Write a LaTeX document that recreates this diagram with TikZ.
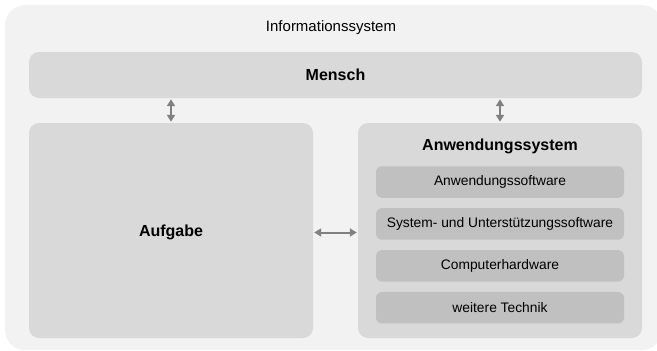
\documentclass[tikz,border=0pt]{standalone}
\usepackage{fontspec}
\setmainfont{Liberation Sans}
\usepackage{tikz}
\usetikzlibrary{arrows.meta}
\usetikzlibrary{positioning}
\definecolor{outergray}{HTML}{F2F2F2}
\definecolor{blockgray}{HTML}{D9D9D9}
\definecolor{partgray}{HTML}{C0C0C0}
\definecolor{arrowgray}{HTML}{808080}
\tikzset{
    outer/.style={
           rectangle,
           rounded corners=20pt,
           fill=outergray,
           inner sep=0pt,
           },
    block/.style={
           rectangle,
           rounded corners=10pt,
           fill=blockgray,
           inner sep=0pt,
           text centered,
           font=\bfseries\fontsize{16}{19}\selectfont,
           },
    part/.style={
           rectangle,
           rounded corners=6pt,
           fill=partgray,
           minimum width=248pt,
           minimum height=31.5pt,
           inner sep=0pt,
           text centered,
           font=\fontsize{13.8}{16}\selectfont,
           },
    phantom/.style={
           rectangle,
           inner sep=0pt,
           text centered,
           },
}
\begin{document}
\begin{tikzpicture}
[
x=1pt,y=-1pt,
<->,>={Triangle[length=7pt,width=8pt]}
]

 \useasboundingbox (0,0) rectangle (657,351);
 \clip (0,0) rectangle (657,351);

 % OUTER BOX: Informationssystem
 \node[outer,
 minimum width=657pt,
 minimum height=345pt] (IS) at (333.5,177.5) {};

 \node[phantom,
 font=\fontsize{15}{18}\selectfont] (ISLABEL) at (331,28)
 {Informationssystem};

 % MENSCH
 \node[block,
 minimum width=613pt,
 minimum height=46pt] (MENSCH) at (335.5,75)
 {Mensch};

 % AUFGABE
 \node[block,
 minimum width=284pt,
 minimum height=215pt] (AUFGABE) at (171,230.5)
 {};

 \node[phantom,
 font=\bfseries\fontsize{16}{19}\selectfont] (AUFGABETITLE) at (171,232.5)
 {Aufgabe};

 % ANWENDUNGSSYSTEM
 \node[block,
 minimum width=284pt,
 minimum height=215pt] (AWS) at (500,230.5)
 {};

 \node[phantom,
 font=\bfseries\fontsize{16}{19}\selectfont] (AWSTITLE) at (500,146)
 {Anwendungssystem};

 % parts of the Anwendungssystem, stacked
 \node[part] (SOFT) at (500,182)
 {Anwendungssoftware};

 \node[part,
 below=10pt of SOFT] (SYSSOFT)
 {System- und Unterstützungssoftware};

 \node[part,
 below=10pt of SYSSOFT] (HARD)
 {Computerhardware};

 \node[part,
 below=10pt of HARD] (TECH)
 {weitere Technik};

 % connectors
 \path[arrowgray, line width=2pt, shorten <=1pt, shorten >=1pt]
 (MENSCH.south -| AUFGABE.north) edge (AUFGABE.north)
 (MENSCH.south -| AWS.north) edge (AWS.north)
 (AUFGABETITLE -| AUFGABE.east) edge (AUFGABETITLE -| AWS.west)
 ;

\end{tikzpicture}
\end{document}
